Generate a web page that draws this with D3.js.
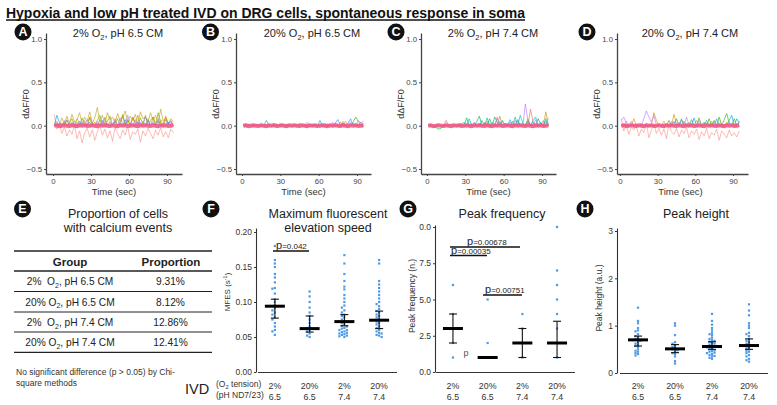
<!DOCTYPE html>
<html><head><meta charset="utf-8">
<script src="https://cdn.jsdelivr.net/npm/d3@7"></script>
<style>
html,body{margin:0;padding:0;background:#fff;}
svg{display:block;font-family:"Liberation Sans",Arial,sans-serif;}
</style></head><body>
<svg id="c" width="777" height="405"></svg>
<script>
// ---------- DATA ----------
const mainTitle = "Hypoxia and low pH treated IVD on DRG cells, spontaneous response in soma";
const panelTitles = ["2% O₂, pH 6.5 CM", "20% O₂, pH 6.5 CM", "2% O₂, pH 7.4 CM", "20% O₂, pH 7.4 CM"];
const yTicksTop = [-0.5, 0, 0.5, 1.0];
const xTicksTop = [0, 30, 60, 90];
const times = [1,3,5,7,9,11,13,15,17,19,21,23,25,27,29,31,33,35,37,39,41,43,45,47,49,51,53,55,57,59,61,63,65,67,69,71,73,75,77,79,81,83,85,87,89,91,93,95];

const baseline = [0,0.005,-0.005,0,0.004,0,-0.004,0.005,0,-0.005,0.004,0,0.005,-0.004,0,0.005,0,-0.005,0.004,0,0.005,0,-0.004,0.005,0,-0.005,0.004,0,0.005,-0.004,0,0.005,0,-0.005,0.004,0,0.005,0,-0.004,0.005,0,-0.005,0.004,0,0.005,-0.004,0,0.005];

const A_red = [0.13,-0.04,0.03,-0.09,-0.02,-0.12,-0.05,-0.1, 0.01,-0.15,-0.06,-0.2,-0.08,-0.03,-0.13,-0.05, -0.17,-0.07,0.0,-0.11,-0.04,-0.14,-0.06,-0.18, -0.02,-0.09,-0.15,-0.05,-0.11,-0.01,-0.16,-0.07, -0.1,-0.04,-0.19,-0.06,-0.12,-0.03,-0.09,-0.15, -0.05,-0.11,-0.02,-0.13,-0.07,-0.14,-0.04,-0.08];
const A_yellow = [0.0,0.03,0.0,0.09,0.02,0.11,0.03,0.13, 0.04,0.07,0.15,0.02,0.1,0.05,0.16,0.03, 0.09,0.21,0.04,0.12,0.02,0.15,0.06,0.1, 0.03,0.14,0.05,0.09,0.17,0.03,0.11,0.06, 0.13,0.02,0.16,0.08,0.1,0.04,0.15,0.06, 0.12,0.03,0.19,0.05,0.1,0.02,0.08,0.04];
const A_orange = [0.0,0.05,0.0,0.03,0.0,0.07,0.0,0.04, 0.0,0.08,0.02,0.0,0.06,0.0,0.09,0.0, 0.04,0.0,0.07,0.0,0.1,0.0,0.05,0.0, 0.08,0.0,0.04,0.11,0.0,0.06,0.0,0.09, 0.0,0.12,0.0,0.05,0.0,0.08,0.0,0.1, 0.03,0.0,0.07,0.0,0.11,0.02,0.06,0.0];
const A_green = [0.0,0.0,0.02,0.0,0.05,0.0,0.03,0.08, 0.0,0.04,0.0,0.09,0.02,0.0,0.1,0.03, 0.0,0.06,0.12,0.02,0.0,0.05,0.11,0.0, 0.03,0.08,0.0,0.13,0.02,0.07,0.0,0.1, 0.04,0.0,0.09,0.02,0.12,0.0,0.06,0.1, 0.0,0.15,0.03,0.0,0.08,0.02,0.05,0.0];
const A_blue = [0.0,0.12,0.04,0.0,0.02,0.06,0.0,0.03, 0.0,0.0,0.05,0.0,0.02,0.0,0.04,0.0, 0.0,0.03,0.0,0.06,0.0,0.02,0.0,0.0, 0.05,0.0,0.02,0.0,0.07,0.0,0.03,0.0, 0.0,0.04,0.0,0.02,0.0,0.06,0.0,0.03, 0.0,0.05,0.0,0.02,0.0,0.04,0.0,0.02];
const A_purple = [0.0,0.0,0.03,0.0,0.06,0.0,0.02,0.0, 0.05,0.0,0.0,0.04,0.0,0.07,0.0,0.02, 0.0,0.05,0.0,0.03,0.08,0.0,0.04,0.0, 0.06,0.0,0.09,0.02,0.0,0.12,0.03,0.0, 0.07,0.0,0.04,0.0,0.1,0.02,0.0,0.05, 0.0,0.08,0.0,0.03,0.06,0.0,0.04,0.0];

const B_red = [0.0,-0.01,0.01,0.0,-0.02,0.01,0.0,-0.01, 0.01,0.0,-0.02,0.0,0.01,-0.01,0.0,0.02, -0.01,0.0,0.01,-0.02,0.0,0.01,-0.01,0.0, 0.02,-0.01,0.0,0.01,-0.02,0.0,0.01,0.0, -0.01,0.02,0.0,-0.01,0.01,0.0,-0.02,0.01, 0.0,-0.01,0.02,0.0,-0.01,0.01,0.0,-0.02];
const B_orange = [0,0,0,0,0,0,0,0, 0,0,0,0,0.02,0,0,0, 0,0,0,0,0,0,0.02,0, 0,0,0,0,0,0,0,0, 0,0,0,0,0,0,0.04,0, 0.05,0,0,0.03,0,0,0,0];
const B_green = [0,0,0,0,0,0,0,0, 0,0,0,0,0,0,0,0, 0,0,0,0,0,0,0,0, 0,0,0,0,0,0,0,0, 0.0,0.0,0.0,0.0,0.02,0.0,0.0,0.03, 0.0,0.0,0.0,0.04,0.1,0.05,0.0,0.02];
const B_blue = [0.0,0.0,0.02,0.0,0.0,0.01,0.0,0.0, 0.0,0.06,0.01,0.0,0.0,0.02,0.0,0.0, 0.0,0.0,0.01,0.0,0.0,0.0,0.02,0.0, 0.0,0.0,0.0,0.0,0.01,0.0,0.06,0.0, 0.0,0.02,0.0,0.0,0.03,0.07,0.01,0.0, 0.0,0.03,0.08,0.0,0.02,0.0,0.04,0.0];
const B_purple = [0.0,0.02,0.0,0.0,0.01,0.0,0.0,0.02, 0.0,0.0,0.01,0.0,0.03,0.0,0.0,0.01, 0.0,0.02,0.0,0.0,0.01,0.0,0.03,0.0, 0.0,0.04,0.0,0.01,0.0,0.0,0.02,0.0, 0.03,0.0,0.0,0.04,0.0,0.02,0.0,0.05, 0.0,0.02,0.04,0.0,0.0,0.06,0.03,0.05];

const C_red = [0.0,0.01,-0.01,0.0,0.02,-0.01,0.0,0.01, -0.01,0.0,0.02,0.0,-0.01,0.01,0.0,-0.02, 0.01,0.0,-0.01,0.02,0.0,-0.01,0.01,0.0, -0.02,0.01,0.0,-0.01,0.02,0.0,-0.01,0.0, 0.01,-0.02,0.0,0.01,-0.01,0.0,0.02,-0.01, 0.0,0.01,-0.02,0.0,0.01,-0.01,0.0,0.02];
const C_orange = [0.0,0.0,0.0,0.0,0.0,0.0,0.0,0.06, 0.0,0.0,0.0,0.0,0.02,0.0,0.0,0.0, 0.0,0.0,0.0,0.0,0.03,0.0,0.0,0.05, 0.0,0.0,0.0,0.1,0.0,0.0,0.03,0.0, 0.0,0.0,0.0,0.05,0.0,0.0,0.0,0.0, 0.19,0.04,0.0,0.0,0.0,0.06,0.0,0.0];
const C_yellow = [0,0,0,0,0,0,0,0, 0,0,0,0,0,0,0,0, 0.0,0.0,0.0,0.0,0.0,0.0,0.04,0.0, 0.0,0.0,0.0,0.0,0.11,0.0,0.0,0.0, 0.0,0.03,0.0,0.0,0.0,0.0,0.0,0.08, 0.0,0.0,0.0,0.0,0.0,0.0,0.16,0.0];
const C_green = [0.0,0.0,0.0,-0.02,-0.04,-0.03,0.0,0.0, 0.0,0.0,0.0,0.0,0.0,0.03,0.0,0.09, 0.0,0.02,0.0,0.05,0.11,0.0,0.03,0.0, 0.08,0.0,0.1,0.04,0.0,0.06,0.0,0.02, 0.0,0.05,0.0,0.07,0.0,0.03,0.0,0.06, 0.0,0.04,0.0,0.08,0.02,0.0,0.05,0.0];
const C_blue = [0,0,0,0,0,0,0,0, 0.0,0.02,0.0,0.0,0.0,0.0,0.04,0.0, 0.08,0.0,0.03,0.0,0.0,0.06,0.0,0.09, 0.0,0.04,0.0,0.0,0.05,0.0,0.03,0.0, 0.07,0.0,0.1,0.0,0.12,0.03,0.0,0.05, 0.0,0.06,0.1,0.0,0.04,0.0,0.08,0.0];
const C_purple = [0,0,0,0,0,0,0,0, 0.0,0.0,0.0,0.0,0.02,0.0,0.0,0.0, 0.0,0.0,0.04,0.0,0.0,0.0,0.03,0.0, 0.0,0.0,0.0,0.08,0.0,0.05,0.0,0.0, 0.04,0.0,0.06,0.0,0.0,0.0,0.25,0.05, 0.0,0.0,0.07,0.0,0.03,0.0,0.0,0.09];

const D_red = [0.08,-0.06,0.02,-0.1,-0.02,-0.05,0.0,-0.12, -0.04,-0.08,0.03,-0.14,-0.05,0.02,-0.09,-0.03, -0.11,-0.04,-0.15,0.02,-0.07,-0.1,-0.03,-0.13, -0.05,-0.09,-0.02,-0.14,-0.06,-0.1,-0.04,-0.16, -0.07,-0.12,-0.03,-0.15,-0.08,-0.11,-0.04,-0.17, -0.06,-0.1,-0.14,-0.05,-0.12,-0.08,-0.13,-0.06];
const D_orange = [0.0,0.0,0.05,0.0,0.0,0.08,0.0,0.0, 0.03,0.0,0.0,0.0,0.0,0.15,0.06,0.0, 0.0,0.05,0.0,0.0,0.0,0.13,0.02,0.0, 0.08,0.0,0.0,0.04,0.0,0.0,0.06,0.0, 0.0,0.03,0.0,0.0,0.05,0.0,0.0,0.0, 0.0,0.0,0.04,0.0,0.0,0.0,0.0,0.02];
const D_green = [0,0,0,0,0,0,0,0, 0,0,0,0,0,0,0,0, 0.0,0.0,0.0,0.06,0.0,0.0,0.08,0.0, 0.0,0.05,0.0,0.0,0.07,0.0,0.0,0.09, 0.0,0.04,0.0,0.08,0.0,0.06,0.0,0.1, 0.0,0.07,0.14,0.03,0.0,0.08,0.0,0.05];
const D_blue = [0,0,0,0,0,0,0,0, 0,0,0,0,0,0,0,0, 0.0,0.0,0.0,0.0,0.0,0.05,0.0,0.0, 0.07,0.0,0.0,0.0,0.0,0.09,0.0,0.0, 0.0,0.0,0.06,0.0,0.0,0.0,0.08,0.0, 0.0,0.0,0.0,0.06,0.12,0.0,0.08,0.03];
const D_purple = [0.06,0.1,0.03,0.0,0.05,0.0,0.02,0.0, 0.0,0.08,0.17,0.1,0.04,0.12,0.0,0.0, 0.0,0.02,0.0,0.0,0.05,0.0,0.0,0.04, 0.0,0.0,0.1,0.0,0.02,0.0,0.0,0.06, 0.0,0.0,0.03,0.0,0.0,0.05,0.0,0.0, 0.02,0.0,0.0,0.04,0.0,0.0,0.03,0.0];

// Table (panel E)
const tableHeader = ["Group", "Proportion"];
const tableGroups = ["2%  O₂, pH 6.5 CM", "20% O₂, pH 6.5 CM", "2%  O₂, pH 7.4 CM", "20% O₂, pH 7.4 CM"];
const tableProportions = ["9.31%", "8.12%", "12.86%", "12.41%"];

// Categories for F, G, H
const o2Labels = ["2%", "20%", "2%", "20%"];
const phLabels = ["6.5", "6.5", "7.4", "7.4"];
const categories = ["g1", "g2", "g3", "g4"];

// Panel F: MFES
const mfes1 = [0.18,0.16,0.155,0.15,0.14,0.135,0.128,0.12,0.119,0.112,0.104,0.1,0.095,0.091,0.088,0.085,0.082,0.078,0.075,0.07,0.065,0.06,0.058,0.053];
const mfes2 = [0.115,0.108,0.1,0.092,0.085,0.08,0.075,0.07,0.065,0.062,0.06,0.058,0.055,0.052,0.05];
const mfes3 = [0.167,0.155,0.14,0.13,0.122,0.118,0.11,0.105,0.1,0.095,0.092,0.088,0.085,0.082,0.08,0.078,0.075,0.073,0.072,0.07,0.068,0.066,0.065,0.063,0.062,0.06,0.06,0.058,0.057,0.056,0.055,0.054,0.053,0.052,0.051,0.05];
const mfes4 = [0.16,0.155,0.13,0.125,0.12,0.115,0.11,0.105,0.1,0.097,0.094,0.09,0.087,0.085,0.082,0.08,0.078,0.075,0.072,0.07,0.068,0.065,0.063,0.06,0.058,0.056,0.055,0.053,0.052,0.05];
const mfesCenter = [0.094, 0.062, 0.072, 0.074];
const mfesLow = [0.077, 0.057, 0.066, 0.062];
const mfesHigh = [0.104, 0.080, 0.082, 0.087];
const mfesTicks = [0, 0.05, 0.10, 0.15, 0.20];

// Panel G: peak frequency
const freq1 = [6,4,3,2,1];
const freq2 = [5,2,1];
const freq3 = [4,3,1];
const freq4 = [10,7,6,5,4,3,1];
const freqCenter = [3, 1, 2, 2];
const freqLow = [2, 1, 1, 1];
const freqHigh = [4, 1, 3, 3.5];
const freqTicks = [0, 2.5, 5, 7.5, 10];
const freqTickLabels = ["0.0", "2.5", "5.0", "7.5", "0.0"];

// Panel H: peak height
const height1 = [1.38,1.1,1.05,0.95,0.9,0.88,0.82,0.78,0.75,0.72,0.7,0.68,0.65,0.62,0.6,0.57,0.55,0.5,0.47,0.45,0.42,0.4,0.37];
const height2 = [1.05,1.0,0.8,0.65,0.62,0.58,0.55,0.52,0.5,0.48,0.45,0.42,0.4,0.35,0.25,0.2];
const height3 = [1.25,1.1,1.02,0.95,0.9,0.85,0.82,0.8,0.75,0.72,0.7,0.68,0.66,0.64,0.62,0.6,0.58,0.56,0.55,0.54,0.52,0.5,0.48,0.46,0.45,0.43,0.42,0.4,0.38,0.36,0.35,0.32,0.3];
const height4 = [1.45,1.32,1.22,1.05,1.0,0.95,0.85,0.82,0.78,0.72,0.68,0.65,0.62,0.6,0.58,0.55,0.52,0.5,0.47,0.45,0.42,0.38,0.35,0.3,0.27,0.24];
const heightCenter = [0.70, 0.51, 0.56, 0.58];
const heightLow = [0.57, 0.43, 0.50, 0.50];
const heightHigh = [0.78, 0.60, 0.66, 0.72];
const heightTicks = [0, 1, 2, 3];

// ---------- DRAWING ----------
const svg = d3.select('#c');
const FONT = '"Liberation Sans", Arial, sans-serif';
const NARROW = '"Liberation Sans Narrow", "Arial Narrow", "Liberation Sans", sans-serif';
const AXIS = '#444';

function subText(sel, str, fs) {
  // renders ₂ as subscript, ⁻¹ as superscript
  const parts = str.split(/(₂|⁻¹)/);
  let shift = 0;
  parts.forEach(p => {
    if (p === '₂') {
      sel.append('tspan').attr('font-size', fs * 0.68).attr('dy', fs * 0.28).text('2');
      shift = fs * 0.28;
    } else if (p === '⁻¹') {
      sel.append('tspan').attr('font-size', fs * 0.68).attr('dy', -fs * 0.38).text('-1');
      shift = -fs * 0.38;
    } else if (p.length) {
      const t = sel.append('tspan').text(p);
      if (shift) { t.attr('dy', -shift); shift = 0; }
    }
  });
  return sel;
}

function letter(cx, cy, L) {
  svg.append('circle').attr('cx', cx).attr('cy', cy).attr('r', 8.5).attr('fill', '#111');
  svg.append('text').attr('x', cx).attr('y', cy + 4.3).attr('text-anchor', 'middle')
    .attr('font-size', 12.5).attr('font-weight', 'bold').attr('fill', '#fff').text(L);
}

// main title
svg.append('text').attr('x', 6).attr('y', 17.5).attr('font-size', 15.5).attr('font-weight', 'bold')
  .attr('textLength', 519).attr('lengthAdjust', 'spacingAndGlyphs').attr('fill', '#111').text(mainTitle);
svg.append('line').attr('x1', 6).attr('x2', 525).attr('y1', 20).attr('y2', 20).attr('stroke', '#111').attr('stroke-width', 1.3);

// ---- top panels ----
const topCfg = [
  { L: 'A', ax: 46, x0: 53, x90: 167, end: 182, tx: 118, lx: 23,
    traces: [[A_red, '#f8766d', 0.55], [A_orange, '#e58700', 0.7], [A_yellow, '#c9a227', 0.75], [A_green, '#7cae00', 0.75], [A_blue, '#00a9ff', 0.75], [A_purple, '#c77cff', 0.75]] },
  { L: 'B', ax: 236, x0: 242, x90: 357, end: 371, tx: 312, lx: 210.5,
    traces: [[B_red, '#f8766d', 0.6], [B_orange, '#e58700', 0.7], [B_green, '#39b600', 0.75], [B_blue, '#00a9ff', 0.75], [B_purple, '#e76bf3', 0.75]] },
  { L: 'C', ax: 421, x0: 427, x90: 542, end: 556, tx: 493, lx: 396,
    traces: [[C_red, '#f8766d', 0.6], [C_orange, '#f8766d', 0.8], [C_yellow, '#c9a227', 0.8], [C_green, '#00ba38', 0.75], [C_blue, '#00bfc4', 0.75], [C_purple, '#b983ff', 0.8]] },
  { L: 'D', ax: 617, x0: 620, x90: 733, end: 748, tx: 690, lx: 587,
    traces: [[D_red, '#f8766d', 0.55], [D_orange, '#e58700', 0.7], [D_green, '#39b600', 0.75], [D_blue, '#00a9ff', 0.75], [D_purple, '#c77cff', 0.75]] }
];

const yTop = d3.scaleLinear().domain([-0.5, 1.0]).range([169, 39]);
const yTopAxis = yTop.copy().domain([yTop.invert(174), yTop.invert(33)]).range([174, 33]);

topCfg.forEach((cfg, i) => {
  const g = svg.append('g');
  const x = d3.scaleLinear().domain([0, 90]).range([cfg.x0, cfg.x90]);
  const xAxisScale = x.copy().domain([x.invert(cfg.ax), x.invert(cfg.end)]).range([cfg.ax, cfg.end]);

  const line = d3.line().x((d, j) => x(times[j])).y(d => yTop(d));
  cfg.traces.forEach(([vals, col, op]) => {
    g.append('path').attr('d', line(vals)).attr('fill', 'none').attr('stroke', col)
      .attr('stroke-width', 0.9).attr('stroke-opacity', op).attr('stroke-linejoin', 'round');
  });
  g.append('path').attr('d', line(baseline)).attr('fill', 'none').attr('stroke', '#ee5a86')
    .attr('stroke-width', 4).attr('stroke-opacity', 0.9);

  const ya = g.append('g').attr('transform', `translate(${cfg.ax},0)`)
    .call(d3.axisLeft(yTopAxis).tickValues(yTicksTop).tickFormat(d3.format('.1f')).tickSize(2).tickPadding(2).tickSizeOuter(0));
  const xa = g.append('g').attr('transform', `translate(0,174)`)
    .call(d3.axisBottom(xAxisScale).tickValues(xTicksTop).tickFormat(d3.format('d')).tickSize(2).tickPadding(2).tickSizeOuter(0));
  [ya, xa].forEach(a => {
    a.select('.domain').attr('stroke', AXIS).attr('stroke-width', 1.3);
    a.selectAll('.tick line').attr('stroke', AXIS);
    a.selectAll('text').attr('font-size', 7.8).attr('fill', '#444').attr('font-family', FONT);
  });

  g.append('text').attr('x', (cfg.x0 + cfg.x90) / 2 + 4).attr('y', 195).attr('text-anchor', 'middle')
    .attr('font-size', 9.5).attr('font-family', NARROW).attr('fill', '#333').text('Time (sec)');
  g.append('text').attr('transform', `translate(${cfg.ax - 17},104) rotate(-90)`).attr('text-anchor', 'middle')
    .attr('font-size', 9).attr('fill', '#333').text('dΔF/F0');
  const tt = g.append('text').attr('x', cfg.tx).attr('y', 37).attr('text-anchor', 'middle')
    .attr('font-size', 11).attr('fill', '#222');
  subText(tt, panelTitles[i], 11);
  letter(cfg.lx, 32, cfg.L);
});

// ---- Panel E (table) ----
letter(22.5, 209, 'E');
svg.append('text').attr('x', 118).attr('y', 217.5).attr('text-anchor', 'middle').attr('font-size', 12.5).attr('fill', '#222').text('Proportion of cells');
svg.append('text').attr('x', 118).attr('y', 232).attr('text-anchor', 'middle').attr('font-size', 12.5).attr('fill', '#222').text('with calcium events');

const rowLines = [251, 271, 291.5, 312, 332, 352.3];
rowLines.forEach((yy, k) => {
  svg.append('line').attr('x1', 14).attr('x2', 212).attr('y1', yy).attr('y2', yy)
    .attr('stroke', '#222').attr('stroke-width', k === 0 || k === 1 || k === 5 ? 1.3 : 1);
});
svg.append('text').attr('x', 70).attr('y', 265.5).attr('text-anchor', 'middle').attr('font-size', 11.5).attr('font-weight', 'bold').attr('fill', '#222').text(tableHeader[0]);
svg.append('text').attr('x', 171).attr('y', 265.5).attr('text-anchor', 'middle').attr('font-size', 11.5).attr('font-weight', 'bold').attr('fill', '#222').text(tableHeader[1]);
const rowBase = [285, 305.5, 326, 346];
tableGroups.forEach((gname, k) => {
  const t = svg.append('text').attr('x', 70).attr('y', rowBase[k]).attr('text-anchor', 'middle')
    .attr('font-size', 10.2).attr('fill', '#222').style('white-space', 'pre');
  subText(t, gname, 10.2);
  svg.append('text').attr('x', 170.5).attr('y', rowBase[k]).attr('text-anchor', 'middle')
    .attr('font-size', 10.2).attr('fill', '#222').text(tableProportions[k]);
});
svg.append('text').attr('x', 16).attr('y', 375).attr('font-size', 8.5).attr('font-family', NARROW).attr('fill', '#333')
  .text('No significant difference (p > 0.05) by Chi-');
svg.append('text').attr('x', 16).attr('y', 386).attr('font-size', 8.5).attr('font-family', NARROW).attr('fill', '#333')
  .text('square methods');

// IVD labels
svg.append('text').attr('x', 185).attr('y', 393.5).attr('font-size', 14.5).attr('fill', '#222').text('IVD');
const o2t = svg.append('text').attr('x', 216).attr('y', 387).attr('font-size', 8.5).attr('font-family', NARROW).attr('fill', '#333');
subText(o2t, '(O₂ tension)', 8.5);
svg.append('text').attr('x', 216).attr('y', 398).attr('font-size', 8.5).attr('font-family', NARROW).attr('fill', '#333').text('(pH ND7/23)');

// ---- Dot plot panels ----
function dotPanel(cfg) {
  const g = svg.append('g');
  const y = d3.scaleLinear().domain(cfg.yDomain).range([cfg.y0, cfg.yTopPx]);
  const yAxisScale = y.copy().domain([0, y.invert(cfg.axisTop)]).range([cfg.y0, cfg.axisTop]);
  const x = d3.scalePoint().domain(categories).range(cfg.xRange).padding(0.5);

  // points
  cfg.groups.forEach((vals, k) => {
    const cx = x(categories[k]);
    const placed = [];
    const offs = cfg.dodge ? [0, -2.5, 2.5, -5, 5, -7.5, 7.5, -10, 10] : [0];
    vals.forEach(v => {
      const py = y(v);
      let off = 0;
      for (const o of offs) {
        off = o;
        if (!placed.some(p => Math.abs(p.x - (cx + o)) < 2.3 && Math.abs(p.y - py) < 2.3)) break;
      }
      placed.push({ x: cx + off, y: py });
    });
    g.selectAll(null).data(placed).enter().append('rect')
      .attr('x', d => d.x - 1.1).attr('y', d => d.y - 1.1).attr('width', 2.2).attr('height', 2.2)
      .attr('fill', '#3b8fe3').attr('fill-opacity', 0.9);
  });

  // error bars + centre lines
  categories.forEach((c, k) => {
    const cx = x(c);
    const lo = y(cfg.low[k]), hi = y(cfg.high[k]);
    if (Math.abs(lo - hi) > 0.5) {
      g.append('line').attr('x1', cx).attr('x2', cx).attr('y1', lo).attr('y2', hi).attr('stroke', '#111').attr('stroke-width', 1.1);
      [lo, hi].forEach(yy => g.append('line').attr('x1', cx - 4).attr('x2', cx + 4).attr('y1', yy).attr('y2', yy).attr('stroke', '#111').attr('stroke-width', 1.1));
    }
    g.append('line').attr('x1', cx - 10).attr('x2', cx + 10).attr('y1', y(cfg.center[k])).attr('y2', y(cfg.center[k]))
      .attr('stroke', '#000').attr('stroke-width', 3);
  });

  const ya = g.append('g').attr('transform', `translate(${cfg.ax},0)`)
    .call(d3.axisLeft(yAxisScale).tickValues(cfg.ticks).tickFormat((d, i) => cfg.tickLabels[i]).tickSize(2).tickPadding(2).tickSizeOuter(0));
  const xa = g.append('g').attr('transform', `translate(0,${cfg.y0})`)
    .call(d3.axisBottom(x).tickSize(0).tickFormat(() => '').tickSizeOuter(0));
  [ya, xa].forEach(a => {
    a.select('.domain').attr('stroke', '#333').attr('stroke-width', 1.1);
    a.selectAll('.tick line').attr('stroke', '#333');
    a.selectAll('text').attr('font-size', 8.5).attr('fill', '#333').attr('font-family', FONT);
  });
  // category labels
  categories.forEach((c, k) => {
    g.append('text').attr('x', x(c)).attr('y', 389).attr('text-anchor', 'middle').attr('font-size', 8.8).attr('fill', '#333').text(o2Labels[k]);
    g.append('text').attr('x', x(c)).attr('y', 399.5).attr('text-anchor', 'middle').attr('font-size', 8.8).attr('fill', '#333').text(phLabels[k]);
  });
  // y label
  const yl = g.append('text').attr('transform', `translate(${cfg.ylx},${cfg.yly}) rotate(-90)`).attr('text-anchor', 'middle')
    .attr('font-size', cfg.ylfs).attr('fill', '#333');
  subText(yl, cfg.ylabel, cfg.ylfs);
  // title
  cfg.title.forEach((t, k) => g.append('text').attr('x', cfg.tx).attr('y', 217.5 + k * 14.5).attr('text-anchor', 'middle')
    .attr('font-size', 12.5).attr('fill', '#222').text(t));
  letter(cfg.lx, 209, cfg.L);
  return { g, x, y };
}

function sigBar(g, x1, x2, yy, tx, label) {
  g.append('line').attr('x1', x1).attr('x2', x2).attr('y1', yy).attr('y2', yy).attr('stroke', '#111').attr('stroke-width', 1.5);
  const t = g.append('text').attr('x', tx).attr('y', yy - 2).attr('fill', '#222');
  t.append('tspan').attr('font-size', 11).text('p');
  t.append('tspan').attr('font-size', 8).text(label);
}

const F = dotPanel({
  L: 'F', lx: 211, tx: 328, title: ['Maximum fluorescent', 'elevation speed'],
  ax: 256, y0: 372, yTopPx: 232, axisTop: 228, yDomain: [0, 0.2], xRange: [257.5, 396.5],
  ticks: mfesTicks, tickLabels: mfesTicks.map(d3.format('.2f')),
  groups: [mfes1, mfes2, mfes3, mfes4], center: mfesCenter, low: mfesLow, high: mfesHigh, dodge: true,
  ylabel: 'MFES (s⁻¹)', ylx: 230, yly: 292, ylfs: 8
});
sigBar(F.g, 273, 309, 251, 276, '=0.042');

const G = dotPanel({
  L: 'G', lx: 408, tx: 502, title: ['Peak frequency'],
  ax: 435, y0: 372, yTopPx: 227, axisTop: 225, yDomain: [0, 10], xRange: [435.6, 574.4],
  ticks: freqTicks, tickLabels: freqTickLabels,
  groups: [freq1, freq2, freq3, freq4], center: freqCenter, low: freqLow, high: freqHigh, dodge: false,
  ylabel: 'Peak frequency (n.)', ylx: 415, yly: 296, ylfs: 8.5
});
sigBar(G.g, 450, 520, 247, 467, '=0.00678');
sigBar(G.g, 450, 487, 255.5, 451, '=0.00035');
sigBar(G.g, 483, 522, 295, 485, '=0.00751');
G.g.append('text').attr('x', 466).attr('y', 356).attr('text-anchor', 'middle').attr('font-size', 9).attr('fill', '#555').text('p');

const H = dotPanel({
  L: 'H', lx: 585, tx: 696, title: ['Peak height'],
  ax: 617, y0: 373, yTopPx: 231, axisTop: 228, yDomain: [0, 3], xRange: [619.5, 767.5],
  ticks: heightTicks, tickLabels: heightTicks.map(String),
  groups: [height1, height2, height3, height4], center: heightCenter, low: heightLow, high: heightHigh, dodge: true,
  ylabel: 'Peak height (a.u.)', ylx: 602, yly: 298, ylfs: 8.5
});
</script>
</body></html>
